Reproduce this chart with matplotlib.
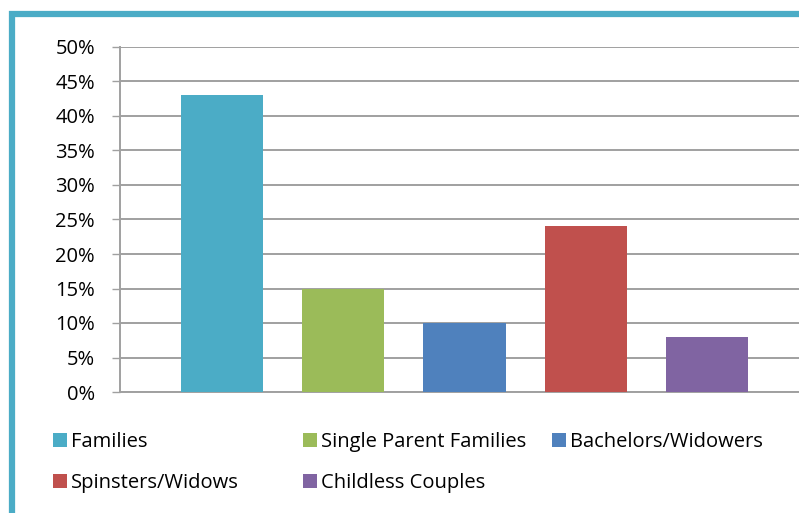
import matplotlib
matplotlib.use("Agg")
import matplotlib.pyplot as plt
from matplotlib.patches import Patch, Rectangle
from matplotlib.ticker import MultipleLocator, PercentFormatter

# ====== DATA ======
categories = ["Families", "Single Parent Families", "Bachelors/Widowers",
              "Spinsters/Widows", "Childless Couples"]
shares = [0.43, 0.15, 0.10, 0.24, 0.08]
colors = ["#4BACC6", "#9BBB59", "#4F81BD", "#C0504D", "#8064A2"]
# ==================

plt.rcParams['font.family'] = ['Open Sans', 'DejaVu Sans']
plt.rcParams['font.weight'] = 'medium'

W, H = 799, 513
fig = plt.figure(figsize=(W / 100, H / 100), dpi=100)

# axes placed in pixel terms; right edge runs slightly past the image like the original crop
ax = fig.add_axes([120 / W, (H - 392) / H, 689 / W, 345 / H])

xs = list(range(len(categories)))
ax.bar(xs, shares, width=0.68, color=colors, zorder=3)

ax.set_xlim(-0.841, len(categories) - 1 + 0.841)
ax.set_ylim(0, 0.5)
ax.yaxis.set_major_locator(MultipleLocator(0.05))
ax.yaxis.set_major_formatter(PercentFormatter(1.0, decimals=0))
ax.grid(axis='y', color='#A0A0A0', linewidth=1.4, zorder=0)
ax.set_xticks([])

for side in ['top', 'right']:
    ax.spines[side].set_visible(False)
for side in ['left', 'bottom']:
    ax.spines[side].set_color('#A0A0A0')
    ax.spines[side].set_linewidth(1.4)
ax.tick_params(axis='y', length=6, width=1.0, color='#A0A0A0', pad=12,
               labelsize=14.5, labelcolor='#000000')

# legend: three columns laid out like the original
handles = [Patch(facecolor=c, edgecolor='none') for c in colors]
columns = [([0, 3], 53 / W), ([1, 4], 303 / W), ([2], 552 / W)]
for idx, xpos in columns:
    leg = fig.legend([handles[i] for i in idx], [categories[i] for i in idx],
                     loc='upper left', bbox_to_anchor=(xpos, 1 - 432 / H),
                     frameon=False, fontsize=14.5, handlelength=0.7,
                     handleheight=0.7, handletextpad=0.2, labelspacing=1.05,
                     borderaxespad=0, borderpad=0)
    for t in leg.get_texts():
        t.set_color('#000000')

# teal frame along top and left edges
fig.patches.append(Rectangle((12 / W, -0.1), 1.2, 1 - 13.5 / H + 0.1,
                             transform=fig.transFigure, fill=False,
                             edgecolor='#4BACC6', linewidth=4.5))

fig.savefig("out.png", dpi=100)
